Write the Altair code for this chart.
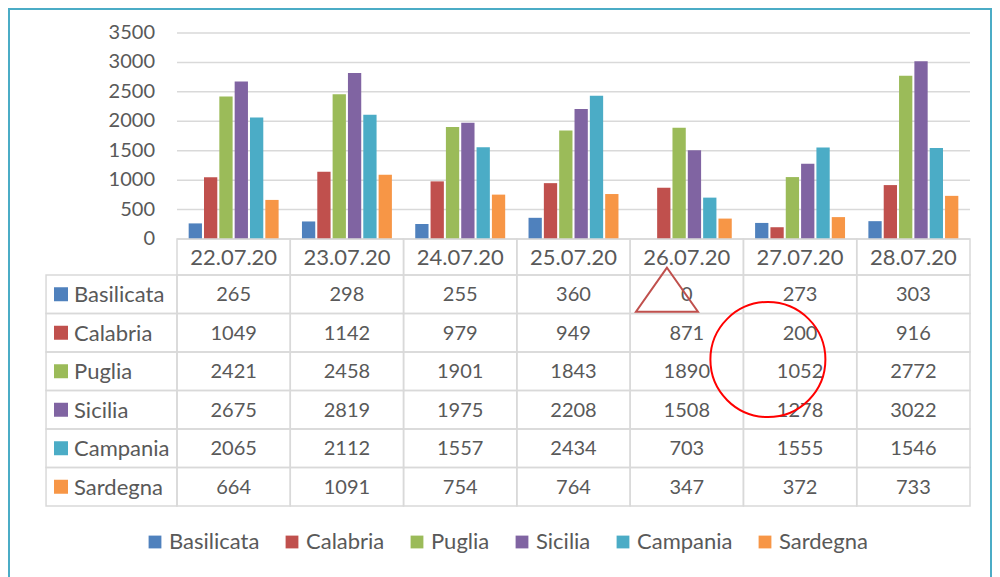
import altair as alt
import pandas as pd

dates = ["22.07.20", "23.07.20", "24.07.20", "25.07.20", "26.07.20", "27.07.20", "28.07.20"]
regions = ["Basilicata", "Calabria", "Puglia", "Sicilia", "Campania", "Sardegna"]
basilicata = [265, 298, 255, 360, 0, 273, 303]
calabria = [1049, 1142, 979, 949, 871, 200, 916]
puglia = [2421, 2458, 1901, 1843, 1890, 1052, 2772]
sicilia = [2675, 2819, 1975, 2208, 1508, 1278, 3022]
campania = [2065, 2112, 1557, 2434, 703, 1555, 1546]
sardegna = [664, 1091, 754, 764, 347, 372, 733]
y_ticks = [0, 500, 1000, 1500, 2000, 2500, 3000, 3500]
colors = ["#4F81BD", "#C0504D", "#9BBB59", "#8064A2", "#4BACC6", "#F79646"]

series = [basilicata, calabria, puglia, sicilia, campania, sardegna]

FONT = "Lato"
TXT = "#595959"
GRID = "#D9D9D9"
FS = 20      # numbers
FS_T = 22    # names and dates

bars_df = pd.DataFrame(
    [{"date": d, "region": r, "value": vals[i]}
     for r, vals in zip(regions, series) for i, d in enumerate(dates)]
)

HEAD_TOP = 0.065
LABEL_LEFT = -1.156
cells = []
heads = []
for c, d in enumerate(dates):
    cells.append({"c0": c, "c1": c + 1, "r0": HEAD_TOP, "r1": 1, "cx": c + 0.5,
                  "cy": (HEAD_TOP + 1) / 2, "text": ""})
    heads.append({"cx": c + 0.5, "cy": (HEAD_TOP + 1) / 2, "text": d})
for r, (reg, vals) in enumerate(zip(regions, series), start=1):
    cells.append({"c0": LABEL_LEFT, "c1": 0, "r0": r, "r1": r + 1, "cx": 0, "cy": r + 0.5, "text": ""})
    for c, v in enumerate(vals):
        cells.append({"c0": c, "c1": c + 1, "r0": r, "r1": r + 1, "cx": c + 0.5,
                      "cy": r + 0.5, "text": str(v)})
cells_df = pd.DataFrame(cells)
heads_df = pd.DataFrame(heads)
labels_df = pd.DataFrame({"region": regions, "cy": [r + 1.5 for r in range(len(regions))]})
ticks_df = pd.DataFrame({"v": y_ticks})

xcol = alt.Scale(domain=[0, 7], range=[169, 962], zero=False, nice=False)
yrow = alt.Scale(domain=[HEAD_TOP, 7], range=[231, 498], zero=False, nice=False)
yval = alt.Scale(domain=[0, 3500], range=[231, 25], nice=False)
xband = alt.Scale(domain=dates, range=[169, 962], paddingInner=0.206, paddingOuter=0.103)
xoff = alt.Scale(domain=regions, paddingInner=0.133, paddingOuter=0)
cscale = alt.Scale(domain=regions, range=colors)
legend = alt.Legend(orient="none", legendX=136, legendY=523, direction="horizontal", title=None,
                    symbolType="square", symbolSize=164, symbolStrokeWidth=0,
                    labelFont=FONT, labelFontSize=FS_T, labelColor=TXT, labelOffset=3,
                    columnPadding=21, padding=0)

grid = alt.Chart(ticks_df).mark_rule(color=GRID, strokeWidth=1.5).transform_calculate(
    a="0", b="7"
).encode(
    x=alt.X("a:Q", scale=xcol, axis=None), x2="b:Q",
    y=alt.Y("v:Q", scale=yval, axis=None),
)

tick_text = alt.Chart(ticks_df).mark_text(
    align="right", baseline="middle", font=FONT, fontSize=FS, color=TXT
).transform_calculate(a="-0.194").encode(
    x=alt.X("a:Q", scale=xcol, axis=None),
    y=alt.Y("v:Q", scale=yval, axis=None),
    text="v:Q",
)

bars = alt.Chart(bars_df).mark_bar().encode(
    x=alt.X("date:N", scale=xband, sort=dates, axis=None),
    xOffset=alt.XOffset("region:N", scale=xoff, sort=regions),
    y=alt.Y("value:Q", scale=yval, axis=None),
    color=alt.Color("region:N", scale=cscale, sort=regions, legend=legend),
)

table_rects = alt.Chart(cells_df).mark_rect(fill="transparent", stroke=GRID, strokeWidth=1.5).encode(
    x=alt.X("c0:Q", scale=xcol, axis=None), x2="c1:Q",
    y=alt.Y("r0:Q", scale=yrow, axis=None), y2="r1:Q",
)

table_text = alt.Chart(cells_df).mark_text(
    align="center", baseline="middle", font=FONT, fontSize=FS, color=TXT, dy=1
).encode(
    x=alt.X("cx:Q", scale=xcol, axis=None),
    y=alt.Y("cy:Q", scale=yrow, axis=None),
    text="text:N",
)

head_text = alt.Chart(heads_df).mark_text(
    align="center", baseline="middle", font=FONT, fontSize=FS_T, color=TXT, dy=1
).encode(
    x=alt.X("cx:Q", scale=xcol, axis=None),
    y=alt.Y("cy:Q", scale=yrow, axis=None),
    text="text:N",
)

label_sq = alt.Chart(labels_df).mark_square(size=196, opacity=1).transform_calculate(
    a="-1.024"
).encode(
    x=alt.X("a:Q", scale=xcol, axis=None),
    y=alt.Y("cy:Q", scale=yrow, axis=None),
    color=alt.Color("region:N", scale=cscale, sort=regions, legend=legend),
)

label_text = alt.Chart(labels_df).mark_text(
    align="left", baseline="middle", font=FONT, fontSize=FS_T, color=TXT, dy=1
).transform_calculate(a="-0.909").encode(
    x=alt.X("a:Q", scale=xcol, axis=None),
    y=alt.Y("cy:Q", scale=yrow, axis=None),
    text="region:N",
)

circle_df = pd.DataFrame({"cx": [5.216], "cy": [3.195]})
tri_df = pd.DataFrame({"cx": [4.325], "cy": [1.382]})

circle = alt.Chart(circle_df).mark_point(
    shape="circle", filled=False, stroke="#FF0000", strokeWidth=2, size=13225, opacity=1
).encode(
    x=alt.X("cx:Q", scale=xcol, axis=None),
    y=alt.Y("cy:Q", scale=yrow, axis=None),
)

triangle = alt.Chart(tri_df).mark_point(
    shape="M0,-0.71L-1,0.71L1,0.71Z", filled=False, stroke="#C0504D", strokeWidth=2,
    size=3844, opacity=1
).encode(
    x=alt.X("cx:Q", scale=xcol, axis=None),
    y=alt.Y("cy:Q", scale=yrow, axis=None),
)

chart = alt.layer(
    grid, tick_text, bars, table_rects, table_text, head_text, label_sq, label_text, triangle, circle
).resolve_scale(
    x="independent", y="independent"
).properties(
    width=984, height=575, autosize=alt.AutoSizeParams(type="none"), padding=0,
    background="white",
).configure_view(
    stroke="#4BACC6", strokeWidth=4
)

chart.save("out.html", embed_options={"renderer": "svg", "actions": False})
